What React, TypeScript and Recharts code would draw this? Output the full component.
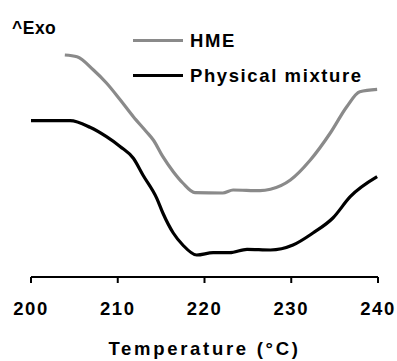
import React from 'react';
import { LineChart, Line, XAxis, YAxis, Customized } from 'recharts';

const xTicks = [200, 210, 220, 230, 240];

const hmeTemp = [203.9, 205.3, 207.2, 208.7, 210.3, 211.8, 213.3, 214.1, 215.2, 216.4, 217.5, 218.9, 222.1, 223.3, 226.4, 227.6, 229.9, 232.2, 234.5, 236.4, 237.9, 239.9];
const hmeFlow = [222, 220.3, 207, 194, 177, 160.3, 145.3, 137, 120.3, 105.3, 94, 84.3, 84, 87, 86.3, 87.7, 97, 117, 144, 170.3, 185.3, 187.7];

const pmTemp = [200, 204.5, 206.8, 208.7, 210.3, 211.8, 212.9, 214.5, 215.2, 216.4, 217.5, 219.1, 221.0, 222.9, 224.9, 227.6, 230.2, 232.5, 234.8, 236.8, 239.9];
const pmFlow = [156.3, 156.3, 149.7, 140.3, 130.3, 118.7, 102, 78.7, 64, 44, 32, 22, 24.3, 24.3, 27.7, 27, 32, 44, 59, 80.3, 100.3];

const seriesNames = ['HME', 'Physical mixture'];
const seriesColors = ['#8a8a8a', '#000000'];

const hmeData = hmeTemp.map((t, i) => ({ t, v: hmeFlow[i] }));
const pmData = pmTemp.map((t, i) => ({ t, v: pmFlow[i] }));

const FONT = '"Liberation Sans", Arial, Helvetica, sans-serif';

const LegendBox = () => (
  <div style={{ position: 'absolute', left: 133, top: 23, fontFamily: FONT, fontWeight: 700, fontSize: 18.5, letterSpacing: 1.6, color: '#000' }}>
    {seriesNames.map((n, i) => (
      <div key={n} style={{ display: 'flex', alignItems: 'center', height: 35 }}>
        <div style={{ width: 50, height: 3.5, background: seriesColors[i], marginRight: 7 }} />
        <span style={{ lineHeight: '18px' }}>{n}</span>
      </div>
    ))}
  </div>
);

const ExoLabel = () => (
  <text x={12} y={33.5} fontFamily={FONT} fontWeight={700} fontSize={17.5} letterSpacing={0.5} fill="#000">
    ^Exo
  </text>
);

const TitleLabel = (props: any) => {
  const vb = props.viewBox || { x: 31, y: 277, width: 347, height: 84 };
  return (
    <text x={vb.x + vb.width / 2} y={355} textAnchor="middle" fontFamily={FONT} fontWeight={700} fontSize={18.5} letterSpacing={2.7} fill="#000">
      Temperature (°C)
    </text>
  );
};

export default function App() {
  return (
    <div style={{ position: 'absolute', left: 0, top: 0, width: 397, height: 361, background: '#fff' }}>
      <LineChart width={397} height={361} margin={{ top: 37, right: 19, bottom: 0, left: 31 }}>
        <XAxis
          type="number"
          dataKey="t"
          domain={[200, 240]}
          ticks={xTicks}
          allowDataOverflow
          height={84}
          tickSize={6}
          tickMargin={19}
          axisLine={{ stroke: '#000', strokeWidth: 2 }}
          tickLine={{ stroke: '#000', strokeWidth: 2 }}
          tick={{ fill: '#000', fontFamily: FONT, fontWeight: 700, fontSize: 18.5, letterSpacing: 1.5 }}
          label={{ content: TitleLabel }}
        />
        <YAxis type="number" domain={[0, 240]} hide width={0} />
        <Line data={hmeData} dataKey="v" type="monotone" stroke={seriesColors[0]} strokeWidth={3.2} dot={false} isAnimationActive={false} name={seriesNames[0]} />
        <Line data={pmData} dataKey="v" type="monotone" stroke={seriesColors[1]} strokeWidth={3.2} dot={false} isAnimationActive={false} name={seriesNames[1]} />
        <Customized component={<ExoLabel />} />
      </LineChart>
      <LegendBox />
    </div>
  );
}
